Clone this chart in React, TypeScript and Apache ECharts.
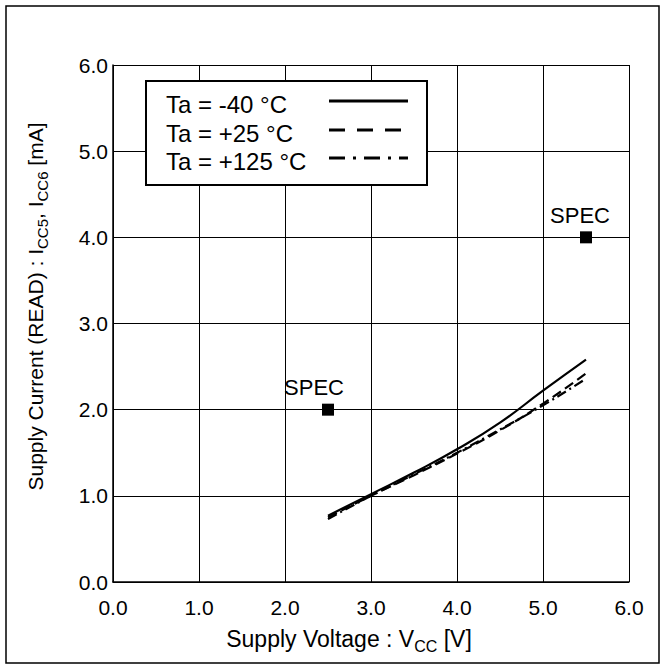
import React, { useEffect, useRef } from "react";
import * as echarts from "echarts";

const voltages = [2.5, 3.0, 3.5, 4.0, 4.5, 5.0, 5.5];
const currentM40 = [0.77, 1.02, 1.27, 1.54, 1.85, 2.22, 2.58];
const currentP25 = [0.75, 1.0, 1.24, 1.49, 1.76, 2.07, 2.42];
const currentP125 = [0.73, 1.0, 1.25, 1.5, 1.77, 2.05, 2.36];
const specPoints = [
  [2.5, 2.0],
  [5.5, 4.0],
];
const legendNames = ["Ta = -40 °C", "Ta = +25 °C", "Ta = +125 °C"];

const FONT = "Liberation Sans, Arial, sans-serif";

export default function App() {
  const ref = useRef<HTMLDivElement>(null);
  useEffect(() => {
    if (!ref.current) return;
    const chart = echarts.init(ref.current, undefined, { renderer: "svg" });
    const pair = (ys: number[]) => voltages.map((v, i) => [v, ys[i]]);
    const lineStyles: any[] = [
      { type: "solid", width: 2.2 },
      { type: [10, 5], width: 2.2 },
      { type: [10, 4, 2, 4], width: 2.2 },
    ];
    const legendDash: any[] = [null, [16, 12], [16, 8, 3, 8]];
    const legendY = [101, 130, 158];
    const graphics: any[] = [
      {
        type: "rect",
        shape: { x: 6, y: 6, width: 653, height: 657 },
        style: { fill: "none", stroke: "#000", lineWidth: 1.5 },
        silent: true,
      },
      {
        type: "rect",
        z: 100,
        shape: { x: 146, y: 81, width: 281, height: 104 },
        style: { fill: "#fff", stroke: "#000", lineWidth: 2 },
      },
    ];
    legendNames.forEach((n, i) => {
      graphics.push({
        type: "text",
        z: 101,
        x: 166,
        y: legendY[i] + 3,
        style: {
          text: n,
          font: `24px ${FONT}`,
          fill: "#000",
          verticalAlign: "middle",
        },
      });
      graphics.push({
        type: "line",
        z: 101,
        shape: { x1: 329, y1: legendY[i], x2: 408, y2: legendY[i] },
        style: {
          stroke: "#000",
          lineWidth: 3,
          lineDash: legendDash[i] || undefined,
        },
      });
    });

    const axisLabel = { color: "#000", fontSize: 21, fontFamily: FONT };
    const richX = {
      a: { fontSize: 23, fontFamily: FONT, color: "#000", lineHeight: 26, verticalAlign: "top" },
      s: { fontSize: 16, fontFamily: FONT, color: "#000", lineHeight: 18, verticalAlign: "top", padding: [11, 0, 0, 0] },
    };
    const richY = {
      a: { fontSize: 21, fontFamily: FONT, color: "#000", lineHeight: 24, verticalAlign: "top" },
      s: { fontSize: 15, fontFamily: FONT, color: "#000", lineHeight: 17, verticalAlign: "top", padding: [10, 0, 0, 0] },
    };
    chart.setOption({
      animation: false,
      backgroundColor: "#fff",
      grid: { left: 113, right: 36, top: 65, bottom: 87, containLabel: false },
      xAxis: {
        type: "value",
        min: 0,
        max: 6,
        interval: 1,
        axisLine: { show: true, lineStyle: { color: "#000", width: 1.5 } },
        axisTick: { show: false },
        splitLine: { show: true, lineStyle: { color: "#000", width: 1 } },
        axisLabel: { ...axisLabel, margin: 15, formatter: (v: number) => v.toFixed(1) },
        name: "{a|Supply Voltage : V}{s|CC}{a| [V]}",
        nameLocation: "middle",
        nameGap: 45,
        nameTextStyle: { rich: richX, padding: [0, 44, 0, 0] },
      },
      yAxis: {
        type: "value",
        min: 0,
        max: 6,
        interval: 1,
        axisLine: { show: true, lineStyle: { color: "#000", width: 1.5 } },
        axisTick: { show: false },
        splitLine: { show: true, lineStyle: { color: "#000", width: 1 } },
        axisLabel: { ...axisLabel, margin: 5, formatter: (v: number) => v.toFixed(1) },
        name: "{a|Supply Current (READ) : I}{s|CC5}{a|, I}{s|CC6}{a| [mA]}",
        nameLocation: "middle",
        nameRotate: 90,
        nameGap: 64,
        nameTextStyle: { rich: richY, padding: [0, 0, 0, 34] },
      },
      series: [
        ...[currentM40, currentP25, currentP125].map((ys, i) => ({
          type: "line",
          name: legendNames[i],
          data: pair(ys),
          smooth: true,
          showSymbol: false,
          symbol: "none",
          lineStyle: { color: "#000", ...lineStyles[i] },
          z: 3,
        })),
        {
          type: "scatter",
          name: "SPEC",
          symbol: "rect",
          symbolSize: 12,
          itemStyle: { color: "#000", opacity: 1 },
          data: specPoints.map((p, i) => ({
            value: p,
            label: {
              show: true,
              position: "top",
              distance: 5,
              offset: [i === 0 ? -14 : -6, 0],
              formatter: "SPEC",
              color: "#000",
              opacity: 1,
              fontSize: 22,
              fontFamily: FONT,
            },
          })),
          z: 4,
        },
      ],
      graphic: graphics,
    });
    return () => chart.dispose();
  }, []);
  return (
    <div
      ref={ref}
      style={{ position: "fixed", left: 0, top: 0, width: 665, height: 669, background: "#fff" }}
    />
  );
}
